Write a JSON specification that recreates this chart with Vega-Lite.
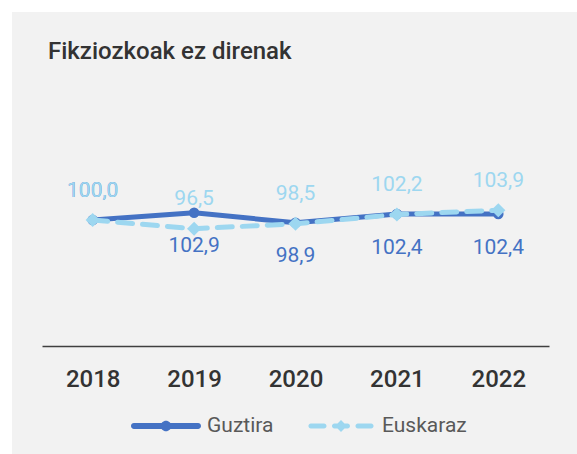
{
  "$schema": "https://vega.github.io/schema/vega-lite/v6.json",
  "width": 565,
  "height": 442,
  "autosize": {"type": "none"},
  "padding": {"left": 12, "top": 12, "right": 0, "bottom": 0},
  "background": "#ffffff",
  "config": {"view": {"fill": "#f2f2f2", "stroke": null}, "font": "Roboto"},
  "title": {
    "text": "Fikziozkoak ez direnak",
    "anchor": "start",
    "frame": "group",
    "dx": 36,
    "offset": -71,
    "baseline": "alphabetic",
    "fontSize": 24,
    "fontWeight": 500,
    "color": "#333333",
    "font": "Roboto"
  },
  "data": {
    "values": [
      {"year": "2018", "series": "Guztira", "value": 100.0, "label": "100,0"},
      {"year": "2019", "series": "Guztira", "value": 102.9, "label": "102,9"},
      {"year": "2020", "series": "Guztira", "value": 98.9, "label": "98,9"},
      {"year": "2021", "series": "Guztira", "value": 102.4, "label": "102,4"},
      {"year": "2022", "series": "Guztira", "value": 102.4, "label": "102,4"},
      {"year": "2018", "series": "Euskaraz", "value": 100.0, "label": "100,0"},
      {"year": "2019", "series": "Euskaraz", "value": 96.5, "label": "96,5"},
      {"year": "2020", "series": "Euskaraz", "value": 98.5, "label": "98,5"},
      {"year": "2021", "series": "Euskaraz", "value": 102.2, "label": "102,2"},
      {"year": "2022", "series": "Euskaraz", "value": 103.9, "label": "103,9"}
    ]
  },
  "encoding": {
    "x": {
      "field": "year",
      "type": "ordinal",
      "scale": {"type": "point", "padding": 0.5, "range": [30, 537]},
      "axis": {
        "title": null,
        "labelAngle": 0,
        "orient": "bottom",
        "offset": -108,
        "domainColor": "#404040",
        "domainWidth": 1.5,
        "ticks": false,
        "tickSize": 0,
        "grid": false,
        "labelPadding": 40,
        "labelBaseline": "alphabetic",
        "labelFontSize": 24,
        "labelFontWeight": 500,
        "labelColor": "#333333",
        "labelFont": "Roboto"
      }
    },
    "y": {
      "field": "value",
      "type": "quantitative",
      "scale": {"domain": [50, 150], "range": [333, 83]},
      "axis": null
    }
  },
  "layer": [
    {
      "transform": [{"filter": "datum.series === 'Guztira'"}],
      "mark": {"type": "line", "strokeWidth": 5, "strokeCap": "round", "strokeJoin": "round", "color": "#4472C4", "clip": false}
    },
    {
      "transform": [{"filter": "datum.series === 'Guztira'"}],
      "mark": {"type": "point", "filled": true, "shape": "circle", "size": 110, "opacity": 1, "color": "#4472C4", "clip": false}
    },
    {
      "transform": [{"filter": "datum.series === 'Euskaraz'"}],
      "mark": {"type": "line", "strokeWidth": 5, "strokeCap": "round", "strokeJoin": "round", "strokeDash": [15, 10], "color": "#9DD7F0", "clip": false}
    },
    {
      "transform": [{"filter": "datum.series === 'Euskaraz'"}],
      "mark": {"type": "point", "filled": true, "shape": "diamond", "size": 200, "opacity": 1, "color": "#9DD7F0", "clip": false}
    },
    {
      "transform": [{"filter": "datum.series === 'Guztira' && datum.year !== '2018'"}],
      "mark": {"type": "text", "fontSize": 21, "font": "Roboto", "baseline": "alphabetic", "align": "center", "dy": 39.5, "color": "#4472C4"},
      "encoding": {"text": {"field": "label"}}
    },
    {
      "transform": [{"filter": "datum.series === 'Guztira' && datum.year === '2018'"}],
      "mark": {"type": "text", "fontSize": 21, "font": "Roboto", "baseline": "alphabetic", "align": "center", "dy": -23.5, "color": "#4472C4"},
      "encoding": {"text": {"field": "label"}}
    },
    {
      "transform": [{"filter": "datum.series === 'Euskaraz'"}],
      "mark": {"type": "text", "fontSize": 21, "font": "Roboto", "baseline": "alphabetic", "align": "center", "dy": -23.5, "color": "#9DD7F0"},
      "encoding": {"text": {"field": "label"}}
    },
    {
      "transform": [{"filter": "false"}],
      "mark": {"type": "point", "filled": true, "opacity": 1, "clip": false},
      "encoding": {
        "color": {
          "field": "series",
          "type": "nominal",
          "scale": {"domain": ["Guztira", "Euskaraz"], "range": ["#4472C4", "#9DD7F0"]},
          "legend": {
            "orient": "none",
            "legendX": 119,
            "legendY": 379,
            "direction": "horizontal",
            "title": null,
            "padding": 0,
            "symbolSize": 4900,
            "symbolStrokeWidth": 0,
            "symbolOpacity": 1,
            "labelFontSize": 21,
            "labelFont": "Roboto",
            "labelColor": "#595959",
            "labelOffset": 6,
            "columnPadding": 32
          }
        },
        "shape": {
          "field": "series",
          "type": "nominal",
          "scale": {
            "domain": ["Guztira", "Euskaraz"],
            "range": [
              "M-0.915,-0.085H0.915A0.085,0.085,0,0,1,0.915,0.085H-0.915A0.085,0.085,0,0,1,-0.915,-0.085ZM0.15,0A0.15,0.15,0,1,1,-0.15,0A0.15,0.15,0,1,1,0.15,0Z",
              "M-0.86,-0.07H-0.484A0.07,0.07,0,0,1,-0.484,0.07H-0.86A0.07,0.07,0,0,1,-0.86,-0.07ZM-0.187,-0.07H0.187A0.07,0.07,0,0,1,0.187,0.07H-0.187A0.07,0.07,0,0,1,-0.187,-0.07ZM0.484,-0.07H0.86A0.07,0.07,0,0,1,0.86,0.07H0.484A0.07,0.07,0,0,1,0.484,-0.07ZM0,-0.17L0.17,0L0,0.17L-0.17,0Z"
            ]
          },
          "legend": {
            "orient": "none",
            "legendX": 119,
            "legendY": 379,
            "direction": "horizontal",
            "title": null,
            "padding": 0,
            "symbolSize": 4900,
            "symbolStrokeWidth": 0,
            "symbolOpacity": 1,
            "labelFontSize": 21,
            "labelFont": "Roboto",
            "labelColor": "#595959",
            "labelOffset": 6,
            "columnPadding": 32
          }
        }
      }
    }
  ]
}
